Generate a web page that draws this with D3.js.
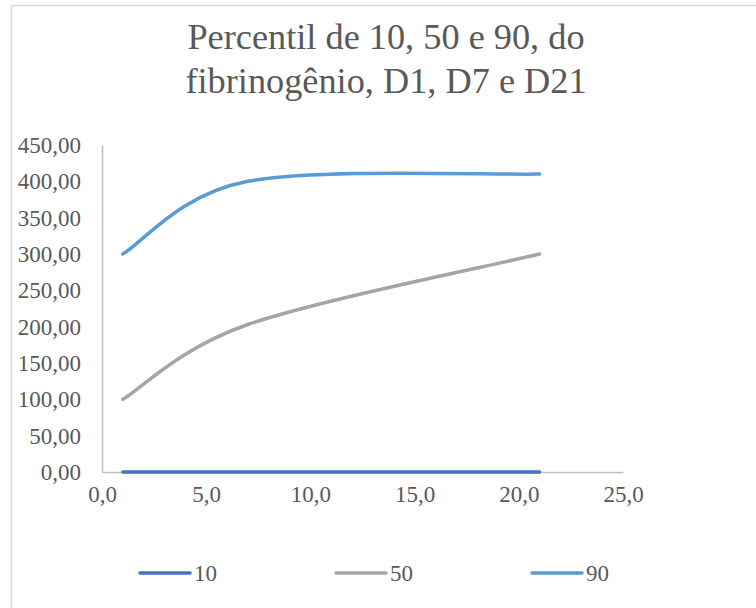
<!DOCTYPE html>
<html>
<head>
<meta charset="utf-8">
<script src="https://cdn.jsdelivr.net/npm/d3@7"></script>
<style>
  html, body { margin: 0; padding: 0; background: #fff; }
  svg { display: block; }
  text { font-family: "Liberation Serif", "Times New Roman", serif; fill: #595959; }
</style>
</head>
<body>
<script>
// ---- data ----
const days = [1, 7, 21];
const p10 = [0, 0, 0];
const p50 = [100, 203, 300];
const p90 = [300, 400, 410];
const seriesNames = ["10", "50", "90"];
const seriesColors = ["#4472c4", "#a5a5a5", "#5b9bd5"];
const yTicks = [0, 50, 100, 150, 200, 250, 300, 350, 400, 450];
const xTicks = [0, 5, 10, 15, 20, 25];
const titleLines = ["Percentil de 10, 50 e 90, do", "fibrinogênio, D1, D7 e D21"];

const W = 756, H = 608;
const svg = d3.select("body").append("svg").attr("width", W).attr("height", H);

// chart border
svg.append("rect")
  .attr("x", 11.5).attr("y", 5.5)
  .attr("width", 780).attr("height", 640)
  .attr("fill", "none").attr("stroke", "#d9d9d9").attr("stroke-width", 1.5);

// title
svg.append("g").selectAll("text").data(titleLines).join("text")
  .attr("x", 386).attr("y", (d, i) => 49 + i * 44)
  .attr("text-anchor", "middle")
  .style("font-size", "36.3px")
  .text(d => d);

const x = d3.scaleLinear().domain([0, 25]).range([102, 623]);
const y = d3.scaleLinear().domain([0, 450]).range([472, 145]);

const fmt2 = d => d3.format(".2f")(d).replace(".", ",");
const fmt1 = d => d3.format(".1f")(d).replace(".", ",");

// y axis
const yAxis = svg.append("g").attr("transform", "translate(102,0)")
  .call(d3.axisLeft(y).tickValues(yTicks).tickSize(0).tickPadding(21).tickFormat(fmt2));
yAxis.attr("font-family", null);
yAxis.select(".domain").attr("stroke", "#bfbfbf").attr("stroke-width", 1.5);
yAxis.selectAll("text").style("font-size", "23px").attr("fill", "#595959").style("font-family", '"Liberation Serif", serif');

// x axis
const xAxis = svg.append("g").attr("transform", "translate(0,472)")
  .call(d3.axisBottom(x).tickValues(xTicks).tickSize(0).tickPadding(14).tickFormat(fmt1));
xAxis.attr("font-family", null);
xAxis.select(".domain").attr("stroke", "#bfbfbf").attr("stroke-width", 1.5);
xAxis.selectAll("text").style("font-size", "23px").attr("fill", "#595959").style("font-family", '"Liberation Serif", serif');

// Excel-style smoothed curve (Catmull-Rom Bezier, endpoints duplicated)
function excelSmooth(context) {
  let pts = [];
  return {
    areaStart() {}, areaEnd() {},
    lineStart() { pts = []; },
    point(px, py) { pts.push([+px, +py]); },
    lineEnd() {
      const n = pts.length;
      if (!n) return;
      context.moveTo(pts[0][0], pts[0][1]);
      for (let i = 0; i < n - 1; i++) {
        const p0 = pts[Math.max(i - 1, 0)], p1 = pts[i], p2 = pts[i + 1], p3 = pts[Math.min(i + 2, n - 1)];
        context.bezierCurveTo(
          p1[0] + (p2[0] - p0[0]) / 6, p1[1] + (p2[1] - p0[1]) / 6,
          p2[0] - (p3[0] - p1[0]) / 6, p2[1] - (p3[1] - p1[1]) / 6,
          p2[0], p2[1]);
      }
    }
  };
}

// lines
const allSeries = [p10, p50, p90];
const line = d3.line()
  .x((d, i) => x(days[i]))
  .y(d => y(d))
  .curve(excelSmooth);

svg.append("g").selectAll("path").data(allSeries).join("path")
  .attr("d", d => line(d))
  .attr("fill", "none")
  .attr("stroke", (d, i) => seriesColors[i])
  .attr("stroke-width", 3.5)
  .attr("stroke-linecap", "round");

// legend
const legendX = [140, 336, 532];
const lg = svg.append("g").selectAll("g").data(seriesNames).join("g")
  .attr("transform", (d, i) => `translate(${legendX[i]},573)`);
lg.append("line")
  .attr("x1", 0).attr("x2", 50).attr("y1", 0).attr("y2", 0)
  .attr("stroke", (d, i) => seriesColors[i])
  .attr("stroke-width", 3.5).attr("stroke-linecap", "round");
lg.append("text")
  .attr("x", 54).attr("y", 0).attr("dy", "0.35em")
  .style("font-size", "23px")
  .text(d => d);
</script>
</body>
</html>
